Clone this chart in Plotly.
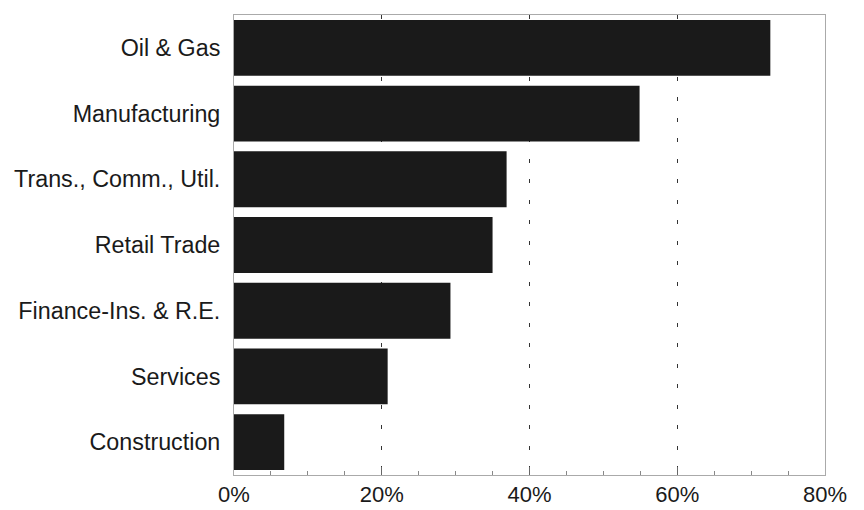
import plotly.graph_objects as go

categories = ["Oil & Gas", "Manufacturing", "Trans., Comm., Util.", "Retail Trade",
              "Finance-Ins. & R.E.", "Services", "Construction"]
values = [72.6, 54.9, 36.9, 35.0, 29.3, 20.8, 6.8]

# plot bottom-to-top
cats = categories[::-1]
vals = values[::-1]

fig = go.Figure(go.Bar(
    x=vals, y=cats, orientation="h", width=0.85,
    marker=dict(color="#1a1a1a", line=dict(width=0)),
))

fig.update_layout(
    width=864, height=510,
    margin=dict(l=224, r=47, t=6, b=43),
    paper_bgcolor="white", plot_bgcolor="white",
    font=dict(family="Liberation Sans, Arial, sans-serif", size=22, color="#1a1a1a"),
    showlegend=False,
)
fig.update_xaxes(
    range=[0, 80], dtick=20, ticksuffix="%",
    showgrid=True, gridcolor="#333", griddash="4px,16.5px", gridwidth=1,
    showline=True, linecolor="#aaa", linewidth=1, mirror=True,
    ticks="inside", ticklen=8, tickcolor="#666",
    minor=dict(dtick=5, ticks="inside", ticklen=4, tickcolor="#888", showgrid=False),
    zeroline=False, tickfont=dict(size=22),
)
fig.update_yaxes(
    range=[-0.5, 6.5], showgrid=False,
    showline=True, linecolor="#aaa", linewidth=1, mirror=True,
    ticks="", ticklabelstandoff=8, tickfont=dict(size=23.3),
)

fig.write_html("out.html")
